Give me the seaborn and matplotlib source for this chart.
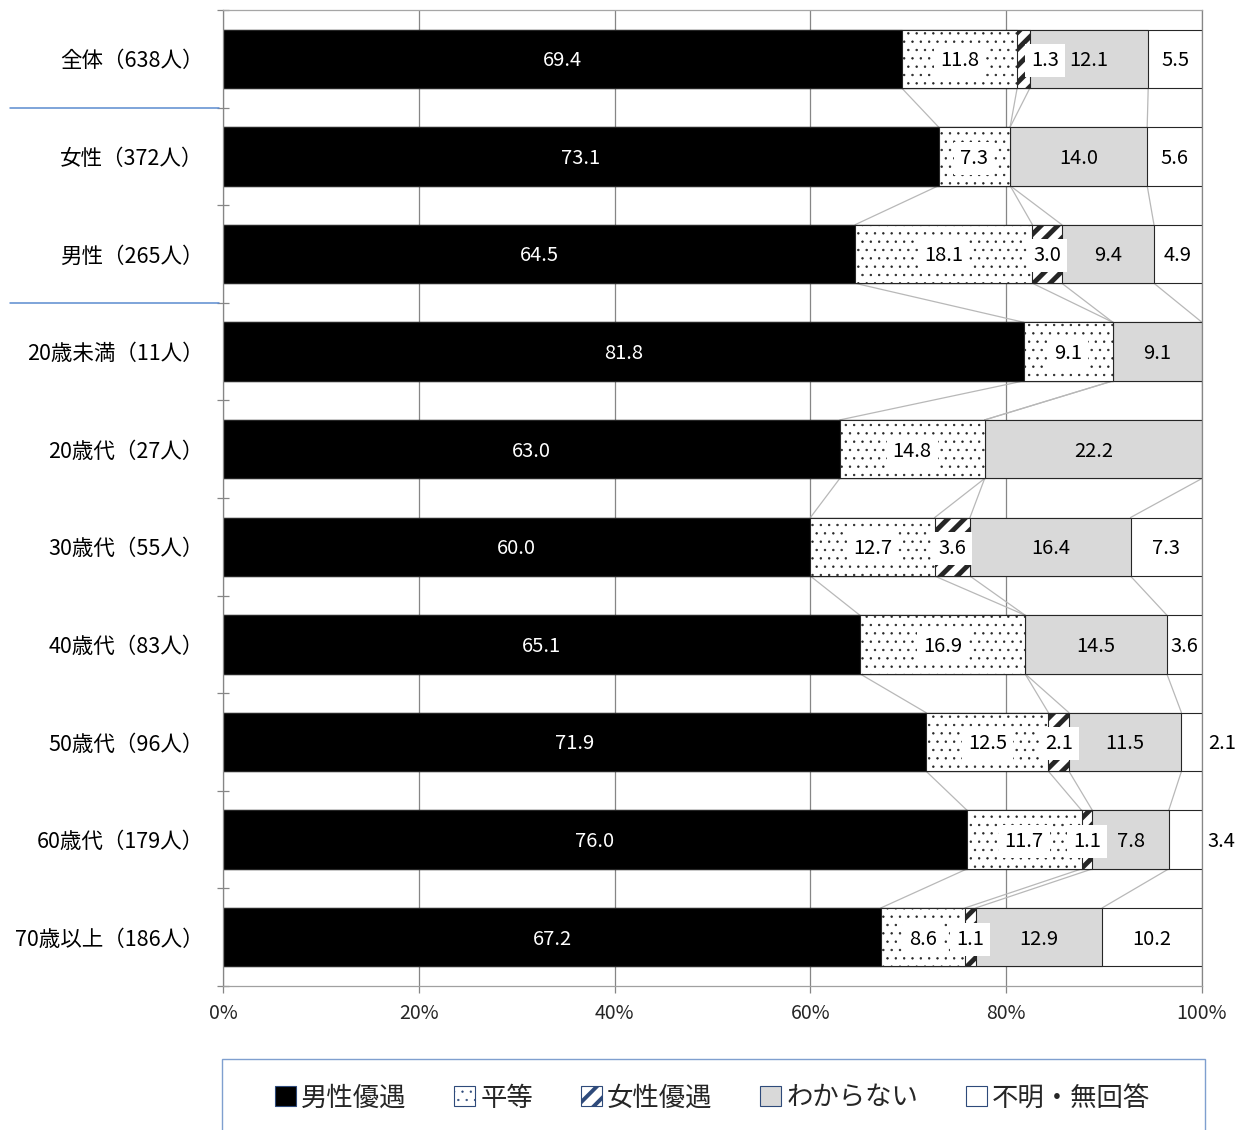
import numpy as np
import matplotlib
matplotlib.use("Agg")
import matplotlib.pyplot as plt
import seaborn as sns
from matplotlib.patches import Patch, Rectangle
from matplotlib.ticker import PercentFormatter, FixedLocator

# Data (percent)
categories = ['全体（638人）', '女性（372人）', '男性（265人）', '20歳未満（11人）', '20歳代（27人）',
              '30歳代（55人）', '40歳代（83人）', '50歳代（96人）', '60歳代（179人）', '70歳以上（186人）']
series_names = ['男性優遇', '平等', '女性優遇', 'わからない', '不明・無回答']
male_pref = [69.4, 73.1, 64.5, 81.8, 63.0, 60.0, 65.1, 71.9, 76.0, 67.2]
equal = [11.8, 7.3, 18.1, 9.1, 14.8, 12.7, 16.9, 12.5, 11.7, 8.6]
female_pref = [1.3, 0.0, 3.0, 0.0, 0.0, 3.6, 0.0, 2.1, 1.1, 1.1]
unknown = [12.1, 14.0, 9.4, 9.1, 22.2, 16.4, 14.5, 11.5, 7.8, 12.9]
no_answer = [5.5, 5.6, 4.9, 0.0, 0.0, 7.3, 3.6, 2.1, 3.4, 10.2]

# Styles for each series
face_colors = ['black', 'white', 'white', '#d9d9d9', 'white']
hatches = [None, '..', '//', None, None]
hatch_lw = [1.0, 0.5, 3.5, 1.0, 1.0]
text_colors = ['white', 'black', 'black', 'black', 'black']

sns.set_style("white")
plt.rcParams['font.family'] = ['Noto Sans CJK JP', 'DejaVu Sans']

vals = np.array([male_pref, equal, female_pref, unknown, no_answer]).T
# 100% stacked: scale each row to a total of 100
norm = vals / vals.sum(axis=1, keepdims=True) * 100
cum = np.cumsum(norm, axis=1)
left = cum - norm

fig = plt.figure(figsize=(12.47, 11.3), dpi=100)
ax = fig.add_axes([223 / 1247, 1 - 986 / 1130, (1202 - 223) / 1247, (986 - 10) / 1130])

# stacked bars: draw cumulative totals from largest to smallest
for k in range(4, -1, -1):
    with plt.rc_context({'hatch.linewidth': hatch_lw[k]}):
        n_before = len(ax.patches)
        sns.barplot(x=cum[:, k], y=categories, orient='h', color=face_colors[k],
                    saturation=1, width=0.6, hatch=hatches[k], edgecolor='#262626',
                    linewidth=0.8, errorbar=None, ax=ax)
        for p in ax.patches[n_before:]:
            p.set_facecolor(face_colors[k])
            if hasattr(p, 'set_hatch_linewidth'):
                p.set_hatch_linewidth(hatch_lw[k])

# series lines between bars
for i in range(len(categories) - 1):
    for k in range(4):
        ax.plot([cum[i, k], cum[i + 1, k]], [i + 0.3, i + 0.7], color='#b8b8b8', lw=0.9, zorder=0.9)

# value labels
nudge = {(0, 2): 2.2}
for i in range(len(categories)):
    for k in range(5):
        v = vals[i, k]
        if v <= 0:
            continue
        x = left[i, k] + norm[i, k] / 2 + nudge.get((i, k), 0)
        ha = 'center'
        if k == 4 and v < 3.5:
            x, ha = 100.6, 'left'
        bbox = None
        if k in (1, 2):
            bbox = dict(boxstyle='square,pad=0.3', facecolor='white', edgecolor='none')
        ax.text(x, i + 0.02, f"{v:.1f}", ha=ha, va='center', fontsize=14.5, color=text_colors[k],
                bbox=bbox, zorder=5)

ax.set_xlim(0, 100)
ax.set_ylim(len(categories) - 0.5, -0.5)
ax.xaxis.set_major_locator(FixedLocator([0, 20, 40, 60, 80, 100]))
ax.xaxis.set_major_formatter(PercentFormatter(100, decimals=0))
ax.set_axisbelow(True)
ax.xaxis.grid(True, color='#868686', lw=0.9)
ax.yaxis.grid(False)
ax.set_xlabel('')
ax.set_ylabel('')

ax.yaxis.set_minor_locator(FixedLocator(np.arange(-0.5, len(categories), 1.0)))
ax.tick_params(axis='y', which='major', length=0, pad=14, labelsize=15.5, labelcolor='black')
ax.tick_params(axis='y', which='minor', direction='inout', length=8.5, width=0.9, color='#868686', left=True)
ax.tick_params(axis='x', which='major', direction='out', length=5, width=0.9, color='#868686',
               pad=7, labelsize=14, bottom=True)

for side in ['left', 'bottom', 'top', 'right']:
    ax.spines[side].set_visible(True)
    ax.spines[side].set_linewidth(0.9)
ax.spines['left'].set_color('#868686')
ax.spines['right'].set_color('#868686')
ax.spines['bottom'].set_color('#a0a0a0')
ax.spines['top'].set_color('#a6a6a6')

# blue separators between groups
for yb in [0.5, 2.5]:
    ax.plot([-0.2176, -0.004], [yb, yb], transform=ax.get_yaxis_transform(), clip_on=False,
            color='#5b8bd0', lw=1.1)

# legend with its frame
handles = [Patch(facecolor=face_colors[k], hatch=hatches[k], edgecolor='#2e4a7a', lw=0.8)
           for k in range(5)]
leg = fig.legend(handles, series_names, loc='center', bbox_to_anchor=(712.5 / 1247, 1 - 1098 / 1130),
                 ncol=5, frameon=False, fontsize=19, handlelength=0.8, handleheight=0.8,
                 handletextpad=0.2, columnspacing=1.8)
for k, p in enumerate(leg.get_patches()):
    if hasattr(p, 'set_hatch_linewidth'):
        p.set_hatch_linewidth(hatch_lw[k] * 0.8)
fig.patches.append(Rectangle((222 / 1247, -0.01), (1205 - 222) / 1247, (1140 - 1058) / 1130,
                             transform=fig.transFigure, facecolor='none', edgecolor='#7f9fcf', lw=1))

fig.savefig('out.png', dpi=100)
